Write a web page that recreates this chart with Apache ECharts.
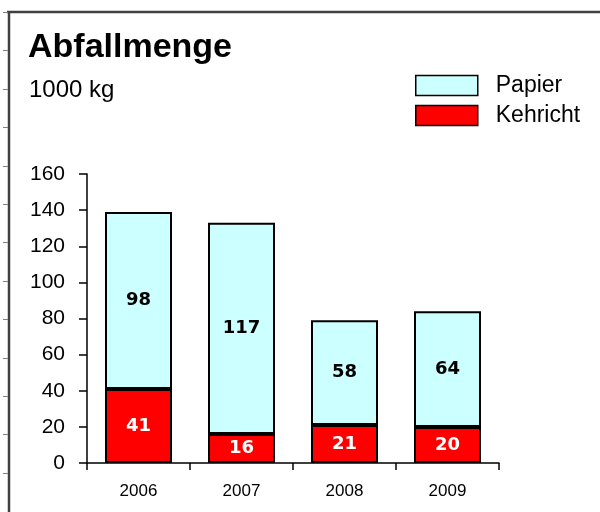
<!DOCTYPE html>
<html>
<head>
<meta charset="utf-8">
<style>
html,body{margin:0;padding:0;background:#fff;}
#chart{width:600px;height:512px;}
</style>
<script src="https://cdn.jsdelivr.net/npm/echarts@6/dist/echarts.min.js"></script>
</head>
<body>
<div id="chart"></div>
<script>
var years = ['2006', '2007', '2008', '2009'];
var kehricht = [41, 16, 21, 20];
var papier = [98, 117, 58, 64];
var yMin = 0, yMax = 160, yStep = 20;

var FONT = '"Liberation Sans", Arial, sans-serif';

var chart = echarts.init(document.getElementById('chart'), null, {renderer: 'canvas'});

var frame = [
  {type: 'line', shape: {x1: 7, y1: 12, x2: 600, y2: 12}, style: {stroke: '#404040', lineWidth: 2.5}, silent: true},
  {type: 'line', shape: {x1: 9, y1: 11, x2: 9, y2: 512}, style: {stroke: '#404040', lineWidth: 2.5}, silent: true}
];
for (var k = 0; k < 13; k++) {
  var yy = Math.round(12 + 38.4 * k) + 0.5;
  frame.push({type: 'line', shape: {x1: 3, y1: yy, x2: 8, y2: yy}, style: {stroke: '#808080', lineWidth: 1}, silent: true});
}

var option = {
  animation: false,
  backgroundColor: '#ffffff',
  textStyle: {fontFamily: FONT},
  title: [
    {text: 'Abfallmenge', left: 28, top: 31, padding: 0,
     textStyle: {fontFamily: FONT, fontSize: 34, fontWeight: 'bold', color: '#000'}},
    {text: '1000 kg', left: 29, top: 78, padding: 0,
     textStyle: {fontFamily: FONT, fontSize: 24, fontWeight: 'normal', color: '#000'}}
  ],
  legend: {
    data: ['Papier', 'Kehricht'],
    orient: 'vertical',
    left: 415, top: 74, padding: 0,
    itemWidth: 62, itemHeight: 20, itemGap: 7,
    icon: 'rect',
    textStyle: {fontFamily: FONT, fontSize: 23, color: '#000', lineHeight: 20, padding: [0, 0, 0, 13]},
    itemStyle: {borderColor: '#000', borderWidth: 1.5}
  },
  grid: {left: 87, right: 101, top: 174, bottom: 49, containLabel: false},
  xAxis: {
    type: 'category',
    data: years,
    axisLine: {show: true, lineStyle: {color: '#000', width: 1.5}},
    axisTick: {show: true, length: 7, lineStyle: {color: '#000', width: 1.5}},
    axisLabel: {fontFamily: FONT, fontSize: 17, color: '#000', margin: 20},
    splitLine: {show: false}
  },
  yAxis: {
    type: 'value',
    min: yMin, max: yMax, interval: yStep,
    axisLine: {show: true, lineStyle: {color: '#000', width: 1.5}},
    axisTick: {show: true, length: 8, lineStyle: {color: '#000', width: 1.5}},
    axisLabel: {fontFamily: FONT, fontSize: 21, color: '#000', margin: 22},
    splitLine: {show: false}
  },
  series: [
    {
      name: 'Kehricht', type: 'bar', stack: 'total', data: kehricht,
      barWidth: 67,
      itemStyle: {color: '#ff0000', borderColor: '#000', borderWidth: 2},
      label: {show: true, position: 'inside', fontFamily: '"DejaVu Sans", sans-serif', fontWeight: 'bold', fontSize: 18, color: '#fff'}
    },
    {
      name: 'Papier', type: 'bar', stack: 'total', data: papier,
      barWidth: 67,
      itemStyle: {color: '#ccffff', borderColor: '#000', borderWidth: 2},
      label: {show: true, position: 'inside', fontFamily: '"DejaVu Sans", sans-serif', fontWeight: 'bold', fontSize: 18, color: '#000'}
    }
  ],
  graphic: frame
};
chart.setOption(option);
</script>
</body>
</html>
